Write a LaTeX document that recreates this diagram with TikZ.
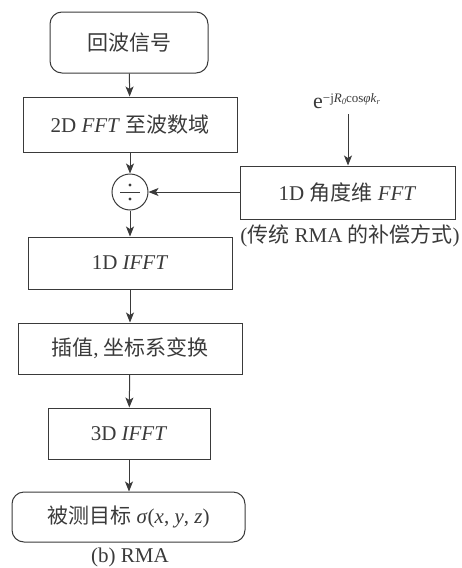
\documentclass[tikz,border=0pt]{standalone}
\usepackage{fontspec}
\setmainfont{Liberation Serif}
\newfontfamily\cjk{Noto Sans CJK SC}
\usetikzlibrary{arrows.meta}
\definecolor{ink}{HTML}{3a3a3a}
\tikzset{
  box/.style={draw=ink, line width=1pt, inner sep=0pt, text=ink, font=\fontsize{21}{24}\selectfont},
  rbox/.style={box, rounded corners=12pt},
  flow/.style={draw=ink, line width=1pt, -{Stealth[length=10pt,width=8pt,inset=2.5pt]}},
  lbl/.style={text=ink, inner sep=0pt, font=\fontsize{21}{24}\selectfont}
}
\begin{document}
\begin{tikzpicture}[x=1pt,y=-1pt]
\useasboundingbox (0,0) rectangle (462,568);
\node[rbox, minimum width=158pt, minimum height=61pt] (sig) at (129,42.5) {\cjk 回波信号};
\node[box, minimum width=214pt, minimum height=55pt] (fft2) at (130,124.5) {2D \textit{FFT} {\cjk 至波数域}};
\node[circle, draw=ink, line width=1pt, minimum size=36pt, inner sep=0pt] (div) at (130,192) {};
\draw[ink, line width=1pt] ([xshift=-10pt]div.center) -- ([xshift=10pt]div.center);
\fill[ink] ([yshift=-7pt]div.center) circle (1.7pt);
\fill[ink] ([yshift=7pt]div.center) circle (1.7pt);
\node[box, minimum width=204pt, minimum height=52pt] (ifft1) at (130,263) {1D \textit{IFFT}};
\node[box, minimum width=224pt, minimum height=51pt] (interp) at (130,348.5) {{\cjk 插值}, {\cjk 坐标系变换}};
\node[box, minimum width=162pt, minimum height=51pt] (ifft3) at (129,433.5) {3D \textit{IFFT}};
\node[rbox, minimum width=233pt, minimum height=50pt] (target) at (128.5,517) {{\cjk 被测目标} \textit{σ}(\textit{x}, \textit{y}, \textit{z})};
\node[lbl] (capb) at (130,557) {(b) RMA};
\node[box, minimum width=215pt, minimum height=53pt] (ang) at (347.5,192.5) {1D {\cjk 角度维} \textit{FFT}};
\node[lbl] (capr) at (350,236) {({\cjk 传统} RMA {\cjk 的补偿方式})};
\node[lbl, anchor=base west, font=\fontsize{22}{24}\selectfont] (comp) at (313,108) {e\raisebox{5.5pt}{\fontsize{13}{13}\selectfont −j\textit{R}\raisebox{-2pt}{\fontsize{8.5}{8.5}\selectfont\textit{0}}cos\textit{φk}\raisebox{-2pt}{\fontsize{8.5}{8.5}\selectfont\textit{r}}}};
\coordinate (cin) at (348,114);
\draw[flow] (sig) -- (fft2);
\draw[flow] (fft2) -- (div);
\draw[flow] (div) -- (ifft1);
\draw[flow] (ifft1) -- (interp);
\draw[flow] (interp) -- (ifft3);
\draw[flow] (ifft3.south) -- (ifft3.south |- target.north);
\draw[flow] (ang.west |- div) -- (div);
\draw[flow] (cin) -- (cin |- ang.north);
\end{tikzpicture}
\end{document}
